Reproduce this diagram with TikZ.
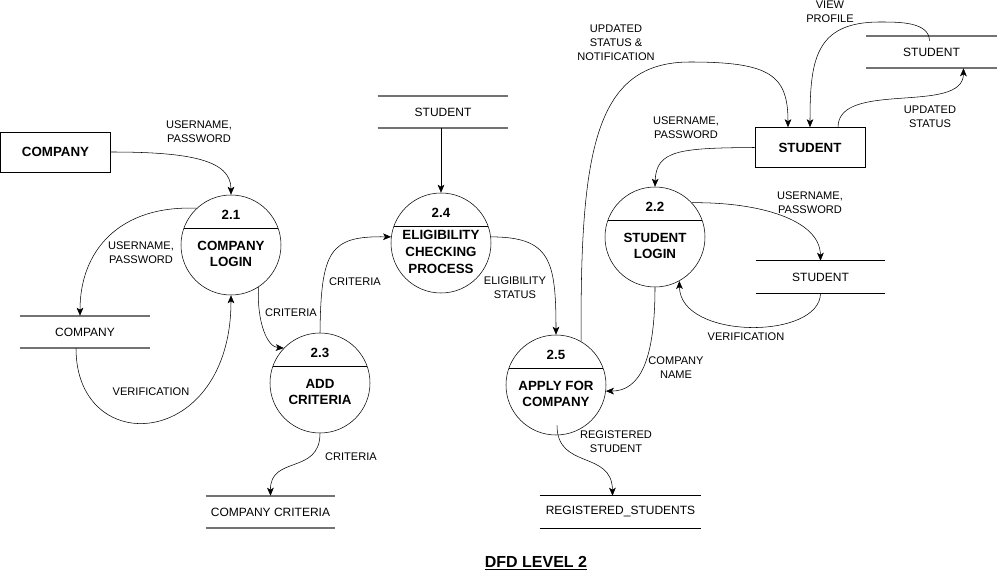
\documentclass[tikz,border=0pt]{standalone}
\usepackage{fontspec}
\setmainfont{Liberation Sans}
\usetikzlibrary{arrows.meta,calc}

\begin{document}
\begin{tikzpicture}[x=0.75pt, y=-0.75pt] %DFD niveau 2
    \tikzstyle{process} = [circle, draw, minimum size=75pt, inner sep=0pt]
    \tikzstyle{procnum} = [font=\fontsize{10}{12}\selectfont\bfseries]
    \tikzstyle{proctext} = [align=center, font=\fontsize{10}{12.5}\selectfont\bfseries]
    \tikzstyle{entity} = [rectangle, draw, minimum width=82.5pt, minimum height=30pt, font=\fontsize{10}{12}\selectfont\bfseries]
    \tikzstyle{store} = [rectangle, minimum height=24pt, inner sep=0pt, font=\fontsize{9}{11}\selectfont]
    \tikzstyle{grayline} = [draw=black!55, line width=1.2pt]
    \tikzstyle{blackline} = [draw=black, line width=0.75pt]
    \tikzstyle{flow} = [draw, -{Stealth[length=6pt, width=5pt, inset=1.5pt]}]
    \tikzstyle{flowlabel} = [align=center, font=\fontsize{8.3}{10.5}\selectfont]
    \useasboundingbox (0,0) rectangle (997,574);

    % processus
    \foreach \name/\x/\y/\num/\txt in {p21/231/245/2.1/{COMPANY\\LOGIN}, p22/655/237/2.2/{STUDENT\\LOGIN}, p23/320/383/2.3/{ADD\\CRITERIA}, p24/441/243/2.4/{ELIGIBILITY\\CHECKING\\PROCESS}, p25/556/385/2.5/{APPLY FOR\\COMPANY}}
    {
        \node[process] (\name) at (\x,\y) {};
        \draw (\name.160) -- (\name.20);
        \node[procnum] at (\x,\y-30) {\num};
        \node[proctext] at (\x,\y+9) {\txt};
    }

    % entites
    \node[entity] (company) at (55.5,152) {COMPANY};
    \node[entity] (student) at (810,147.5) {STUDENT};

    % stockages
    \foreach \name/\x/\y/\w/\txt/\col in {cstore/85/332/97.5pt/COMPANY/grayline, ccrit/270.5/512/96.75pt/COMPANY CRITERIA/grayline, sstore1/443/112/97.5pt/STUDENT/grayline, rstore/620.5/512/120.75pt/REGISTERED\_STUDENTS/blackline, sstore2/820.5/277/96.75pt/STUDENT/blackline, sstore3/931.5/52/98.25pt/STUDENT/grayline}
    {
        \node[store, minimum width=\w] (\name) at (\x,\y) {\txt};
        \draw[\col] (\name.north west) -- (\name.north east);
        \draw[\col] (\name.south west) -- (\name.south east);
    }

    % flux
    \draw[flow] (company.east) .. controls (190,152) and (231,160) .. (p21.north);
    \draw[flow] (p21.133) .. controls (120,205) and (80,250) .. ($(cstore.north)+(-5,0)$);
    \draw[flow] ($(cstore.south)+(-9,0)$) .. controls (76,460) and (231,450) .. (p21.south);
    \draw[flow] (p21.303) .. controls (257,325) and (268,347) .. (p23.136);
    \draw[flow] (p23.north) .. controls (321,250) and (330,236) .. (p24.173);
    \draw[flow] (p23.south) .. controls (320,475) and (270,455) .. (ccrit.north);
    \draw[flow] (sstore1.south -| p24.north) -- (p24.north);
    \draw[flow] (p24.7) .. controls (550,237) and (556,260) .. (p25.north);
    \draw[flow] (p25.60) .. controls (580,150) and (595,62) .. (690,62) .. controls (770,62) and (788,75) .. ($(student.north)+(-22,0)$);
    \draw[flow] ($(sstore3.north)+(-2,5)$) .. controls (929,22) and (900,22) .. (880,22) .. controls (815,22) and (810,60) .. (student.north);
    \draw[flow] ($(student.north)+(28,0)$) .. controls (838,80) and (963,115) .. ($(sstore3.south)+(32,0)$);
    \draw[flow] (student.west) .. controls (680,148) and (656,150) .. (p22.north);
    \draw[flow] (p22.43) .. controls (760,202) and (820,220) .. (sstore2.north);
    \draw[flow] (sstore2.south) .. controls (820,340) and (680,340) .. (p22.299);
    \draw[flow] (p22.south) .. controls (655,360) and (640,391) .. (p25.-7);
    \draw[flow] ($(p25.south)+(1,-10)$) .. controls (557,470) and (612,450) .. ($(rstore.north)+(-8,0)$);

    % etiquettes
    \node[flowlabel] (lcomp) at (199,132) {USERNAME,\\PASSWORD};
    \node[flowlabel] (lcstore) at (141,252.5) {USERNAME,\\PASSWORD};
    \node[flowlabel] (lcverif) at (151,392) {VERIFICATION};
    \node[flowlabel] (lcrit1) at (291,313) {CRITERIA};
    \node[flowlabel] (lcrit2) at (355,282) {CRITERIA};
    \node[flowlabel] (lcrit3) at (351,457) {CRITERIA};
    \node[flowlabel] (lelig) at (515,287.5) {ELIGIBILITY\\STATUS};
    \node[flowlabel] (lnotif) at (616,43) {UPDATED\\STATUS \&\\NOTIFICATION};
    \node[flowlabel] (lview) at (830,12) {VIEW\\PROFILE};
    \node[flowlabel] (lupd) at (930,117) {UPDATED\\STATUS};
    \node[flowlabel] (lstud) at (686,128) {USERNAME,\\PASSWORD};
    \node[flowlabel] (lsstore) at (810,202.5) {USERNAME,\\PASSWORD};
    \node[flowlabel] (lsverif) at (746,337) {VERIFICATION};
    \node[flowlabel] (lcname) at (676,368) {COMPANY\\NAME};
    \node[flowlabel] (lreg) at (616,442) {REGISTERED\\STUDENT};

    \node[font=\fontsize{12}{14}\selectfont\bfseries] (title) at (536,563) {\underline{DFD LEVEL 2}};
\end{tikzpicture}
\end{document}
